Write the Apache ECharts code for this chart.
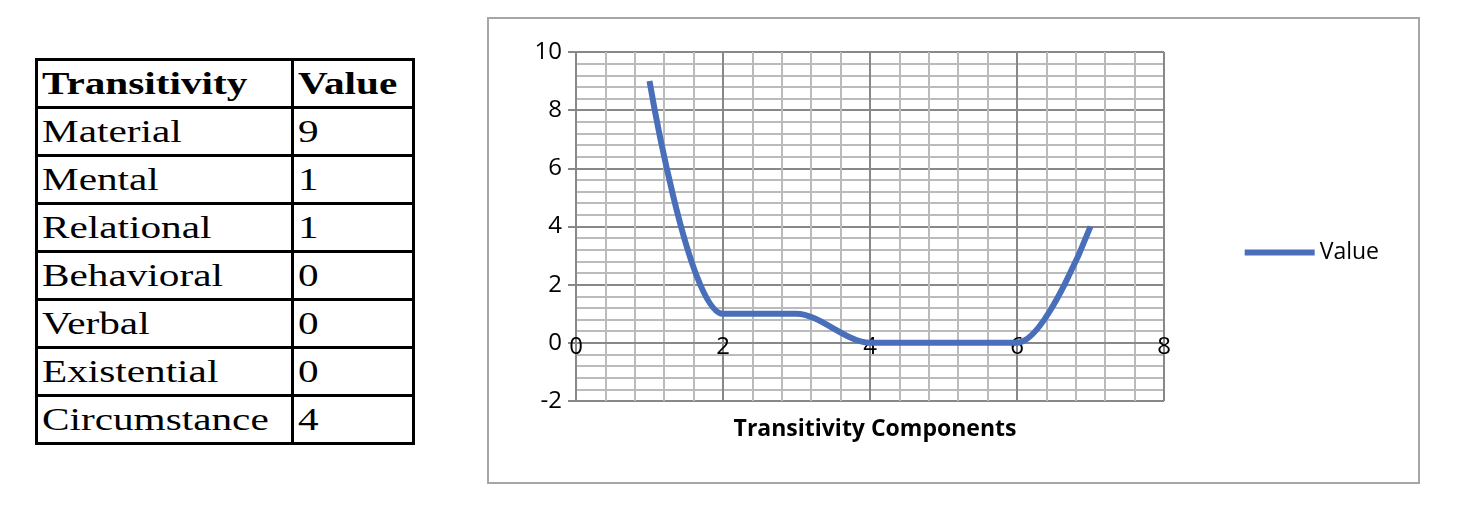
<!DOCTYPE html>
<html><head><meta charset="utf-8">
<script src="https://cdn.jsdelivr.net/npm/echarts@6/dist/echarts.min.js"></script>
<style>
body{margin:0;background:#fff;width:1464px;height:525px;position:relative;overflow:hidden}
#tbl{position:absolute;left:35px;top:58px;border-collapse:collapse;font-family:"Liberation Serif",serif;font-size:31px;table-layout:fixed;width:376px}
#tbl td{border:3px solid #000;height:45px;padding:0 4px;line-height:45px;overflow:visible;white-space:nowrap}
#tbl span{display:inline-block;transform:scaleX(1.33);transform-origin:left center}
#box{position:absolute;left:487px;top:17px;width:933px;height:467px;border:2px solid #a6a6a6;box-sizing:border-box}
#c{position:absolute;left:0;top:0;width:1464px;height:525px}
</style></head><body>
<table id="tbl"></table>
<div id="box"></div>
<div id="c"></div>
<script>
const categories=["Material","Mental","Relational","Behavioral","Verbal","Existential","Circumstance"];
const values=[9,1,1,0,0,0,4];
const xs=[1,2,3,4,5,6,7];
const tbl=document.getElementById('tbl');
let h='<tr><td style="width:245px;font-weight:bold"><span>Transitivity</span></td><td style="width:110px;font-weight:bold"><span>Value</span></td></tr>';
categories.forEach((c,i)=>{h+=`<tr><td><span>${c}</span></td><td><span>${values[i]}</span></td></tr>`;});
tbl.innerHTML=h;
const chart=echarts.init(document.getElementById('c'));
const font='"Open Sans",sans-serif';
chart.setOption({
 animation:false,
 grid:{left:576,top:52,width:588,height:349},
 title:{text:'Transitivity Components',left:870,top:413,textAlign:'center',textStyle:{fontFamily:font,fontSize:23,fontWeight:'bold',color:'#000'}},
 legend:{right:80,top:236,itemWidth:70,itemHeight:6,icon:'rect',textStyle:{fontFamily:font,fontSize:23,color:'#000'},data:['Value']},
 xAxis:{type:'value',min:0,max:8,interval:2,offset:-58,axisLine:{onZero:false,lineStyle:{color:'#888',width:2}},axisTick:{show:false},
  axisLabel:{fontFamily:font,fontSize:24,color:'#000',margin:-8},
  splitLine:{lineStyle:{color:'#888',width:2}},minorTick:{show:false,splitNumber:5},minorSplitLine:{show:true,lineStyle:{color:'#bbb',width:2}}},
 yAxis:{type:'value',min:-2,max:10,interval:2,axisLine:{show:true,lineStyle:{color:'#888',width:2}},axisTick:{show:true,length:8,lineStyle:{color:'#888',width:2}},
  axisLabel:{fontFamily:font,fontSize:24,color:'#000',margin:14},
  splitLine:{lineStyle:{color:'#888',width:2}},minorTick:{splitNumber:5},minorSplitLine:{show:true,lineStyle:{color:'#bbb',width:2}}},
 series:[{name:'Value',type:'line',smooth:0.3,symbol:'none',data:xs.map((x,i)=>[x,values[i]]),lineStyle:{color:'#4a6fba',width:6},itemStyle:{color:'#4a6fba'}}]
});
</script></body></html>
